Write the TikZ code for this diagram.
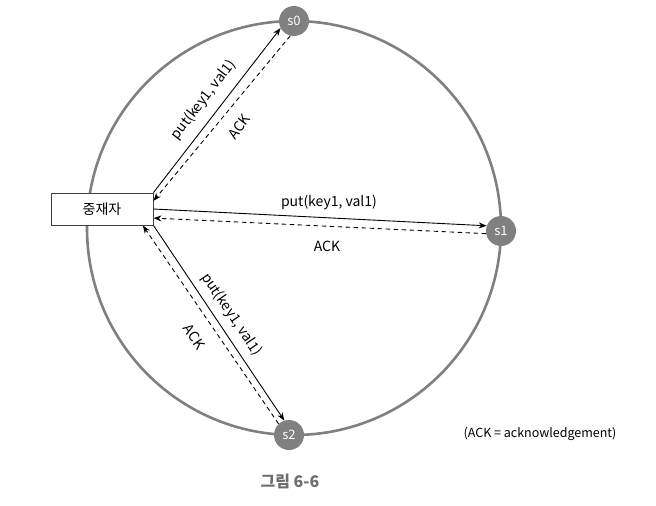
\documentclass[tikz,border=0pt]{standalone}
\usepackage{fontspec}
\setmainfont{Noto Sans CJK KR}
\usetikzlibrary{arrows.meta}
\definecolor{ringgray}{HTML}{808080}
\definecolor{capgray}{HTML}{6E6E6E}
\tikzset{
  ring/.style={draw=ringgray, line width=2.6pt},
  server/.style={circle, fill=ringgray, text=white, minimum size=30pt, inner sep=0pt, font=\fontsize{13}{13}\selectfont},
  mediator/.style={draw=black!75, fill=white, line width=1pt, minimum width=102pt, minimum height=32pt, inner sep=0pt, font=\fontsize{14}{14}\selectfont},
  req/.style={line width=0.9pt, -{Stealth[length=8pt,width=6pt]}},
  ack/.style={line width=0.9pt, dash pattern=on 4.5pt off 3.5pt, -{Stealth[length=8pt,width=6pt]}},
  lbl/.style={inner sep=0pt, font=\fontsize{14}{14}\selectfont},
}
\begin{document}
\begin{tikzpicture}[x=1pt,y=-1pt]
\useasboundingbox (0,0) rectangle (656,506);
\coordinate (ctr) at (294,228);
\draw[ring] (ctr) circle [radius=207pt];
\node[server] (s0) at (294,21) {s0};
\node[server] (s1) at (501,231) {s1};
\node[server] (s2) at (289,435) {s2};
\node[mediator] (m) at (102,209) {중재자};
% s0
\draw[req] (m.north east) -- (s0.208);
\draw[ack] (s0.256) -- (m.9);
% s1
\draw[req] (m.east) -- (s1.160);
\draw[ack] (s1.190) -- (m.-10);
% s2
\draw[req] (m.south east) -- (s2.108);
\draw[ack] (s2.133) -- (m.-22);
% labels
\node[lbl, rotate=52.5] (l0p) at (203.5,100) {put(key1, val1)};
\node[lbl, rotate=52.5] (l0a) at (239,127) {ACK};
\node[lbl] (l1p) at (329,202) {put(key1, val1)};
\node[lbl] (l1a) at (327,246) {ACK};
\node[lbl, rotate=-56] (l2p) at (231.5,314.5) {put(key1, val1)};
\node[lbl, rotate=-56] (l2a) at (194,337) {ACK};
\node[inner sep=0pt, font=\fontsize{12.5}{12.5}\selectfont] (note) at (540,434) {(ACK = acknowledgement)};
\node[inner sep=0pt, text=capgray, font=\fontsize{16}{16}\selectfont\bfseries] (cap) at (290,481) {그림 6-6};
\end{tikzpicture}
\end{document}
